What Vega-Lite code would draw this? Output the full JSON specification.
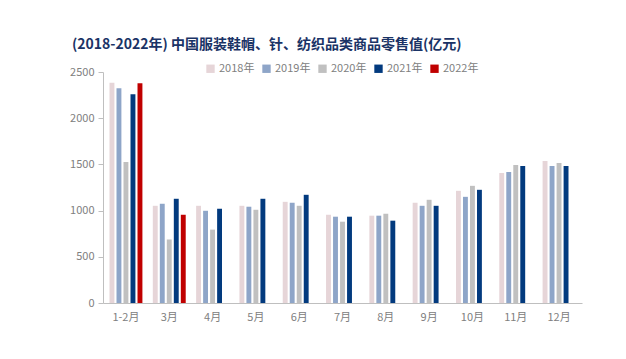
{
  "$schema": "https://vega.github.io/schema/vega-lite/v6.json",
  "width": 479,
  "height": 231,
  "autosize": {"type": "none"},
  "padding": {"left": 103, "top": 72, "right": 44, "bottom": 56},
  "background": "white",
  "title": {
    "text": "(2018-2022年) 中国服装鞋帽、针、纺织品类商品零售值(亿元)",
    "anchor": "start",
    "frame": "group",
    "dx": -31,
    "offset": 11,
    "font": "Noto Sans CJK SC",
    "fontSize": 14,
    "fontWeight": "bold",
    "color": "#1a3366"
  },
  "config": {
    "view": {"stroke": null},
    "font": "Noto Sans CJK SC"
  },
  "data": {
    "values": [
      {"month": "1-2月", "year": "2018年", "value": 2385},
      {"month": "1-2月", "year": "2019年", "value": 2324},
      {"month": "1-2月", "year": "2020年", "value": 1527},
      {"month": "1-2月", "year": "2021年", "value": 2259},
      {"month": "1-2月", "year": "2022年", "value": 2378},
      {"month": "3月", "year": "2018年", "value": 1052},
      {"month": "3月", "year": "2019年", "value": 1074},
      {"month": "3月", "year": "2020年", "value": 686},
      {"month": "3月", "year": "2021年", "value": 1128},
      {"month": "3月", "year": "2022年", "value": 955},
      {"month": "4月", "year": "2018年", "value": 1052},
      {"month": "4月", "year": "2019年", "value": 998},
      {"month": "4月", "year": "2020年", "value": 794},
      {"month": "4月", "year": "2021年", "value": 1020},
      {"month": "5月", "year": "2018年", "value": 1052},
      {"month": "5月", "year": "2019年", "value": 1042},
      {"month": "5月", "year": "2020年", "value": 1009},
      {"month": "5月", "year": "2021年", "value": 1128},
      {"month": "6月", "year": "2018年", "value": 1095},
      {"month": "6月", "year": "2019年", "value": 1085},
      {"month": "6月", "year": "2020年", "value": 1052},
      {"month": "6月", "year": "2021年", "value": 1171},
      {"month": "7月", "year": "2018年", "value": 955},
      {"month": "7月", "year": "2019年", "value": 934},
      {"month": "7月", "year": "2020年", "value": 880},
      {"month": "7月", "year": "2021年", "value": 934},
      {"month": "8月", "year": "2018年", "value": 945},
      {"month": "8月", "year": "2019年", "value": 945},
      {"month": "8月", "year": "2020年", "value": 966},
      {"month": "8月", "year": "2021年", "value": 891},
      {"month": "9月", "year": "2018年", "value": 1085},
      {"month": "9月", "year": "2019年", "value": 1052},
      {"month": "9月", "year": "2020年", "value": 1117},
      {"month": "9月", "year": "2021年", "value": 1052},
      {"month": "10月", "year": "2018年", "value": 1214},
      {"month": "10月", "year": "2019年", "value": 1149},
      {"month": "10月", "year": "2020年", "value": 1268},
      {"month": "10月", "year": "2021年", "value": 1225},
      {"month": "11月", "year": "2018年", "value": 1408},
      {"month": "11月", "year": "2019年", "value": 1419},
      {"month": "11月", "year": "2020年", "value": 1494},
      {"month": "11月", "year": "2021年", "value": 1483},
      {"month": "12月", "year": "2018年", "value": 1537},
      {"month": "12月", "year": "2019年", "value": 1483},
      {"month": "12月", "year": "2020年", "value": 1516},
      {"month": "12月", "year": "2021年", "value": 1483}
    ]
  },
  "mark": {"type": "bar"},
  "encoding": {
    "x": {
      "field": "month",
      "type": "nominal",
      "sort": null,
      "scale": {"paddingInner": 0.24, "paddingOuter": 0.15},
      "axis": {
        "title": null,
        "labelAngle": 0,
        "labelColor": "#808080",
        "labelFontSize": 11,
        "labelPadding": 8,
        "ticks": false,
        "domainColor": "#bfbfbf",
        "labelFont": "Noto Sans CJK SC"
      }
    },
    "xOffset": {
      "field": "year",
      "type": "nominal",
      "scale": {"domain": ["2018年", "2019年", "2020年", "2021年", "2022年"], "paddingInner": 0.3}
    },
    "y": {
      "field": "value",
      "type": "quantitative",
      "scale": {"domain": [0, 2500]},
      "axis": {
        "title": null,
        "values": [0, 500, 1000, 1500, 2000, 2500],
        "format": "d",
        "grid": false,
        "labelColor": "#808080",
        "labelFontSize": 11,
        "labelPadding": 4,
        "tickColor": "#bfbfbf",
        "tickSize": 5,
        "domainColor": "#bfbfbf",
        "labelFont": "Noto Sans CJK SC"
      }
    },
    "color": {
      "field": "year",
      "type": "nominal",
      "scale": {
        "domain": ["2018年", "2019年", "2020年", "2021年", "2022年"],
        "range": ["#e6d5d8", "#8ea5c8", "#c0c0c0", "#023a7e", "#c00000"]
      },
      "legend": {
        "title": null,
        "orient": "none",
        "direction": "horizontal",
        "legendX": 102,
        "legendY": -9,
        "symbolType": "square",
        "symbolSize": 70,
        "symbolStrokeWidth": 0,
        "labelColor": "#808080",
        "labelFontSize": 11,
        "labelFont": "Noto Sans CJK SC",
        "columnPadding": 6,
        "labelOffset": 3
      }
    }
  }
}
